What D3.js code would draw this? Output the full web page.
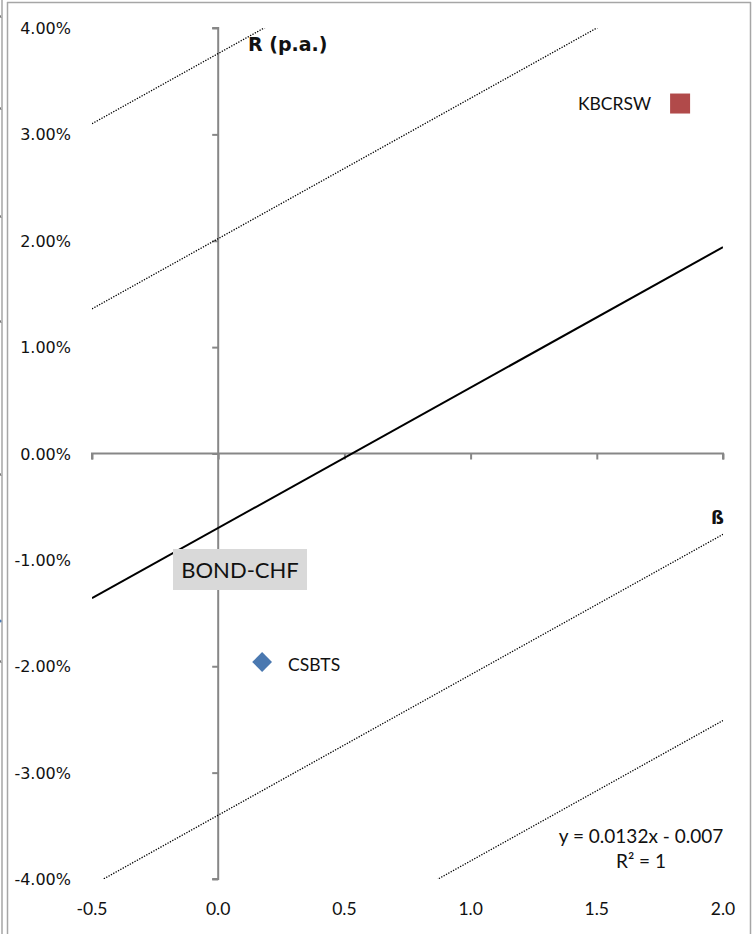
<!DOCTYPE html>
<html><head><meta charset="utf-8">
<script src="https://cdn.jsdelivr.net/npm/d3@7"></script>
<style>body{margin:0;background:#fff}svg{display:block}</style>
</head><body>
<script>
// ---- data ----
const xTicks = [-0.5, 0.0, 0.5, 1.0, 1.5, 2.0];
const yTicks = [0.04, 0.03, 0.02, 0.01, 0.00, -0.01, -0.02, -0.03, -0.04];
const pointNames = ["KBCRSW", "CSBTS"];
const pointBetas = [1.83, 0.174];
const pointReturns = [0.0329, -0.0196];
const trendSlope = 0.0132;
const trendIntercept = -0.007;
const bandIntercepts = [0.0376, 0.0202, -0.0340, -0.0515];
const bondLabel = "BOND-CHF";

const W = 754, H = 934;
const svg = d3.select("body").append("svg").attr("width", W).attr("height", H);

const x = d3.scaleLinear().domain([-0.5, 2.0]).range([92, 723]);
const y = d3.scaleLinear().domain([-0.04, 0.04]).range([879, 28]);
const hy = s => s.replace("\u2212", "-");

// frame
const frame = "#a6a6a6";
svg.append("line").attr("x1", 2).attr("x2", 2).attr("y1", 0).attr("y2", H).attr("stroke", frame).attr("stroke-width", 1.5);
svg.append("line").attr("x1", 7.5).attr("x2", 7.5).attr("y1", 2).attr("y2", H).attr("stroke", frame).attr("stroke-width", 1.5);
svg.append("line").attr("x1", 7).attr("x2", 751).attr("y1", 2.5).attr("y2", 2.5).attr("stroke", frame).attr("stroke-width", 1.5);
svg.append("line").attr("x1", 750.5).attr("x2", 750.5).attr("y1", 2).attr("y2", H).attr("stroke", frame).attr("stroke-width", 1.5);
// left edge artifacts
[15, 107, 215, 320, 473, 660].forEach(v => svg.append("line").attr("x1", 0).attr("x2", 1).attr("y1", v).attr("y2", v + 3).attr("stroke", "#777"));
svg.append("circle").attr("cx", 0).attr("cy", 621).attr("r", 1.6).attr("fill", "#4a7ab5");

// clip
svg.append("clipPath").attr("id", "plot").append("rect")
  .attr("x", x(-0.5)).attr("y", y(0.04)).attr("width", x(2) - x(-0.5)).attr("height", y(-0.04) - y(0.04));

const axisColor = "#878787";
// y axis at beta=0
const yAxis = d3.axisLeft(y).tickValues(yTicks).tickSize(6).tickFormat("");
const gy = svg.append("g").attr("transform", `translate(${x(0)},0)`).call(yAxis);
gy.selectAll("path,line").attr("stroke", axisColor).attr("stroke-width", 2);
gy.select("path").attr("d", `M-6,${y(0.04)}H0V${y(-0.04)}H-6`);
// x axis at 0%
const xAxis = d3.axisBottom(x).tickValues(xTicks).tickSize(6).tickFormat("");
const gx = svg.append("g").attr("transform", `translate(0,${y(0)})`).call(xAxis);
gx.selectAll("path,line").attr("stroke", axisColor).attr("stroke-width", 2);
gx.select("path").attr("d", `M${x(-0.5)},6V0H${x(2)}V6`);

// y labels (low position)
svg.append("g").selectAll("text").data(yTicks).join("text")
  .attr("x", 71).attr("y", d => y(d) + 6)
  .attr("text-anchor", "end").attr("font-family", "DejaVu Sans").attr("font-size", 16).attr("fill", "#111")
  .text(d => hy(d3.format(".2%")(d)));
// x labels (low position)
svg.append("g").selectAll("text").data(xTicks).join("text")
  .attr("x", d => x(d)).attr("y", 915)
  .attr("text-anchor", "middle").attr("font-family", "Lato").attr("font-size", 17.5).attr("fill", "#111")
  .text(d => hy(d3.format(".1f")(d)));

// lines
const plot = svg.append("g").attr("clip-path", "url(#plot)");
const line = d3.line().x(d => x(d[0])).y(d => y(d[1]));
bandIntercepts.forEach(b => {
  plot.append("path").attr("d", line([[-0.5, b + trendSlope * -0.5], [2.0, b + trendSlope * 2.0]]))
    .attr("fill", "none").attr("stroke", "#000").attr("stroke-width", 1.3).attr("stroke-dasharray", "1.3,1.4");
});
plot.append("path").attr("d", line([[-0.5, trendIntercept + trendSlope * -0.5], [2.0, trendIntercept + trendSlope * 2.0]]))
  .attr("fill", "none").attr("stroke", "#000").attr("stroke-width", 2);

// BOND-CHF label
const bx = 240, by = 570;
svg.append("rect").attr("x", bx - 67).attr("y", by - 21).attr("width", 134).attr("height", 41).attr("fill", "#d9d9d9");
svg.append("text").attr("x", bx).attr("y", by + 8).attr("text-anchor", "middle")
  .attr("font-family", "Lato").attr("font-size", 22).attr("fill", "#111").text(bondLabel);

// points
const colors = ["#b14a4a", "#4a78b0"];
pointNames.forEach((n, i) => {
  const px = x(pointBetas[i]), py = y(pointReturns[i]);
  if (i === 0) {
    svg.append("rect").attr("x", px - 10).attr("y", py - 10).attr("width", 20).attr("height", 20).attr("fill", colors[i]);
    svg.append("text").attr("x", px - 29).attr("y", py + 6).attr("text-anchor", "end")
      .attr("font-family", "Lato").attr("font-size", 17.5).attr("fill", "#111").text(n);
  } else {
    svg.append("path").attr("d", d3.symbol(d3.symbolDiamond2, 250)()).attr("transform", `translate(${px},${py})`).attr("fill", colors[i]);
    svg.append("text").attr("x", px + 26).attr("y", py + 9).attr("text-anchor", "start")
      .attr("font-family", "Lato").attr("font-size", 17.5).attr("fill", "#111").text(n);
  }
});

// axis titles
svg.append("text").attr("x", 248).attr("y", 51).attr("font-family", "DejaVu Sans").attr("font-weight", "bold")
  .attr("font-size", 19).attr("fill", "#111").text("R (p.a.)");
svg.append("text").attr("x", 724).attr("y", 524).attr("text-anchor", "end").attr("font-family", "DejaVu Sans").attr("font-weight", "bold")
  .attr("font-size", 18).attr("fill", "#111").text("ß");

// trendline equation
svg.append("text").attr("x", 641).attr("y", 843).attr("text-anchor", "middle").attr("font-family", "Lato")
  .attr("font-size", 19).attr("fill", "#111").text(`y = ${trendSlope}x - ${Math.abs(trendIntercept)}`);
svg.append("text").attr("x", 641).attr("y", 868).attr("text-anchor", "middle").attr("font-family", "Lato")
  .attr("font-size", 19).attr("fill", "#111").text("R² = 1");
</script>
</body></html>
